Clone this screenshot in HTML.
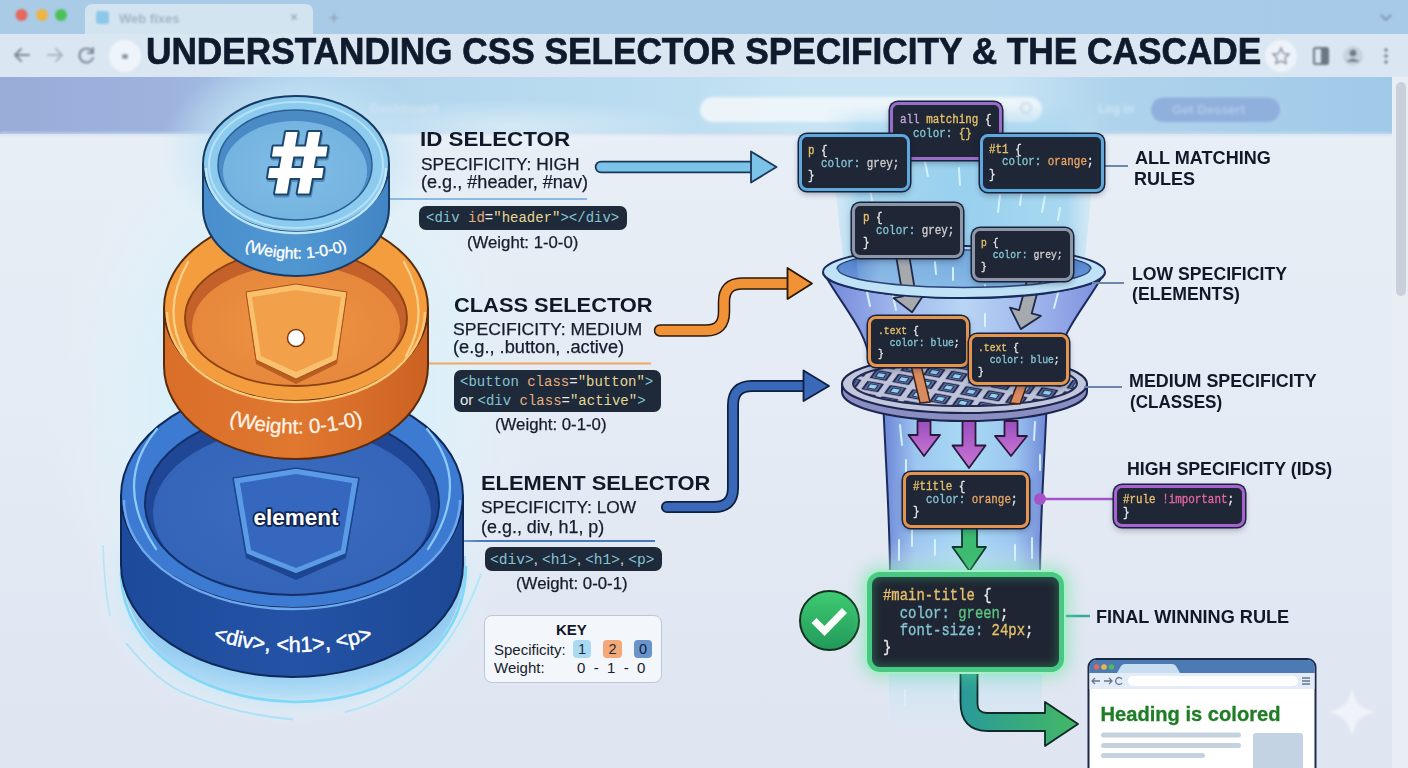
<!DOCTYPE html>
<html><head><meta charset="utf-8">
<style>
*{margin:0;padding:0;box-sizing:border-box}
html,body{width:1408px;height:768px;overflow:hidden;background:#e6edf5}
body{font-family:"Liberation Sans",sans-serif;color:#141b2b}
#root{position:relative;width:1408px;height:768px;overflow:hidden}
svg.layer{position:absolute;left:0;top:0}
.t{position:absolute;white-space:nowrap;line-height:1}
.h{font-weight:bold;color:#111827}
.code{position:absolute;background:#1e293a;border-radius:7px;font-family:"Liberation Mono",monospace;white-space:pre;color:#e6e6e6}
.c{color:#84c4d2}.y{color:#e6c06a}.o{color:#e8a565}.s{color:#e4d994}.a{color:#e6ae7c}.w{color:#e8e8e8}.g{color:#cfcfcf}.p{color:#c4a2dc}.k{color:#e266a2}
.cb{position:absolute;background:#1f2636;border:3px solid #888;border-radius:8px;box-shadow:0 0 0 1.5px #17233d,0 3px 6px rgba(20,30,60,0.35)}
.fin{background:#1f2532;box-shadow:0 0 0 2px #a6f0c8,0 0 16px 6px rgba(90,225,150,0.45),inset 0 0 10px 2px rgba(60,190,120,0.35)}
.ct{position:absolute;font-family:"Liberation Mono",monospace;white-space:pre;font-size:12.5px;line-height:12.5px;transform:scaleX(0.87);transform-origin:0 0;color:#e8e8e8;-webkit-text-stroke:0.35px currentColor}
.ct.sm{font-size:11.5px;line-height:11.8px;transform:scaleX(0.845)}
.ct.big{font-size:16px;line-height:17.5px;transform:scaleX(0.87)}
.gr{color:#5cc47e}
.rl{font-weight:bold;font-size:19px;color:#111827}
</style></head><body><div id="root">
<svg class="layer" width="1408" height="768" viewBox="0 0 1408 768">
<defs>
 <linearGradient id="hdr" x1="0" x2="1392" y1="0" y2="0" gradientUnits="userSpaceOnUse">
  <stop offset="0" stop-color="#98acd8"/><stop offset="0.122" stop-color="#9db3de"/><stop offset="0.216" stop-color="#acccea"/>
  <stop offset="0.30" stop-color="#b4d7ee"/><stop offset="0.50" stop-color="#bddef1"/><stop offset="0.58" stop-color="#c8e4f4"/><stop offset="0.72" stop-color="#c8e4f4"/><stop offset="0.80" stop-color="#aed3ec"/><stop offset="1" stop-color="#a0c9e8"/>
 </linearGradient>
 <filter id="bl1" x="-10%" y="-50%" width="120%" height="200%"><feGaussianBlur stdDeviation="0.9"/></filter>
 <filter id="bl2" x="-10%" y="-50%" width="120%" height="200%"><feGaussianBlur stdDeviation="1.6"/></filter>
 <linearGradient id="tabbar" x1="0" x2="1" y1="0" y2="0">
  <stop offset="0" stop-color="#a9cbe6"/><stop offset="1" stop-color="#a6cae8"/>
 </linearGradient>
 <radialGradient id="glowL" cx="0.5" cy="0.5" r="0.5">
  <stop offset="0.45" stop-color="#d8f0fa" stop-opacity="1"/><stop offset="0.75" stop-color="#e0f1f9" stop-opacity="0.6"/><stop offset="1" stop-color="#e6edf5" stop-opacity="0"/>
 </radialGradient>
</defs>
<!-- main bg -->
<linearGradient id="mainbg" x1="0" y1="135" x2="0" y2="768" gradientUnits="userSpaceOnUse"><stop offset="0" stop-color="#e8eef6"/><stop offset="0.45" stop-color="#e5ebf4"/><stop offset="1" stop-color="#dfe5f1"/></linearGradient>
<rect x="0" y="0" width="1408" height="768" fill="url(#mainbg)"/>
<ellipse cx="292" cy="400" rx="250" ry="330" fill="url(#glowL)"/>
<!-- tab bar -->
<rect x="0" y="0" width="1408" height="34" fill="url(#tabbar)"/>
<path d="M85 34 L85 12 Q85 4 93 4 L305 4 Q313 4 313 12 L313 34 Z" fill="#d3e4f1"/>
<g filter="url(#bl1)">
<circle cx="21.5" cy="15" r="6" fill="#e5675f"/>
<circle cx="42" cy="15" r="6" fill="#eeb444"/>
<circle cx="61" cy="15" r="6" fill="#4cc158"/>
<rect x="96" y="11" width="13" height="13" rx="3" fill="#8ec8e8"/>
<text x="119" y="22.5" font-size="13" font-weight="bold" fill="#a3b2c4" font-family="Liberation Sans">Web fixes</text>
<text x="290" y="22" font-size="14" fill="#8a9bb0" font-family="Liberation Sans">×</text>
<text x="329" y="23" font-size="17" fill="#8a9bb0" font-family="Liberation Sans">+</text>
<path d="M1381 15 L1386 20 L1391 15" fill="none" stroke="#7d94ad" stroke-width="1.8"/>
</g>
<!-- address row -->
<rect x="0" y="34" width="1408" height="43" fill="#dae7f2"/>
<g filter="url(#bl1)">
<circle cx="125" cy="56" r="16" fill="#eef4fa"/>
<circle cx="1281" cy="56" r="16" fill="#edf3f9"/>
<g stroke="#7b8798" stroke-width="2" fill="none" stroke-linecap="round">
 <path d="M15 55 L29 55 M21 49 L15 55 L21 61"/>
 <path d="M48 55 L62 55 M56 49 L62 55 L56 61" stroke="#aab6c4"/>
 <path d="M93 53 A7 7 0 1 0 93 58 M93 48 L93 53 L88 53"/>
</g>
<rect x="122" y="54" width="6" height="5" rx="1" fill="#8d97a4"/>
<path d="M1281 48 L1283.5 53.5 L1289 54 L1285 58 L1286 63.5 L1281 61 L1276 63.5 L1277 58 L1273 54 L1278.5 53.5 Z" fill="none" stroke="#7d8796" stroke-width="1.5"/>
<rect x="1314" y="48" width="14" height="16" rx="1.5" fill="none" stroke="#6d7786" stroke-width="2"/>
<rect x="1321" y="48" width="7" height="16" fill="#6d7786"/>
<circle cx="1353" cy="56" r="10" fill="#c8d3e0"/>
<circle cx="1353" cy="53" r="3.5" fill="#6f7a88"/>
<path d="M1346 62 Q1353 55 1360 62 Z" fill="#6f7a88"/>
<circle cx="1386" cy="50" r="1.7" fill="#6f7a88"/><circle cx="1386" cy="56" r="1.7" fill="#6f7a88"/><circle cx="1386" cy="62" r="1.7" fill="#6f7a88"/>
</g>
<!-- header band -->
<rect x="0" y="77" width="1392" height="57" fill="url(#hdr)"/>
<rect x="0" y="132" width="1392" height="4" fill="#cfdff0" opacity="0.6" filter="url(#bl1)"/>
<radialGradient id="hglow" cx="0.5" cy="0.5" r="0.5"><stop offset="0" stop-color="#eef6fb" stop-opacity="0.55"/><stop offset="1" stop-color="#eef6fb" stop-opacity="0"/></radialGradient>
<ellipse cx="510" cy="126" rx="190" ry="26" fill="url(#hglow)"/>
<radialGradient id="cylglow" cx="0.5" cy="0.5" r="0.5"><stop offset="0.5" stop-color="#c2e4f5" stop-opacity="0.9"/><stop offset="1" stop-color="#c2e4f5" stop-opacity="0"/></radialGradient>
<ellipse cx="296" cy="150" rx="135" ry="95" fill="url(#cylglow)"/>
<rect x="1151" y="97.5" width="129" height="24.5" rx="12.2" fill="#8fb0dc" filter="url(#bl1)"/>
<g filter="url(#bl2)">
<rect x="700" y="97" width="342" height="25" rx="12.5" fill="#eef5fa" opacity="0.95"/>
<circle cx="1026" cy="108" r="5" fill="none" stroke="#c4d6e4" stroke-width="2"/>
<text x="370" y="113" font-family="Liberation Sans" font-weight="bold" font-size="13" fill="#cfe2f2">Dashboard</text>
<text x="1098" y="113" font-family="Liberation Sans" font-weight="bold" font-size="12" fill="#cfe6f6">Log in</text>
<text x="1172" y="114" font-family="Liberation Sans" font-weight="bold" font-size="13" fill="#b0c8e8">Get Dessert</text>
</g>

<!-- section lines -->
<rect x="385" y="198" width="202" height="2" fill="#8bb9e1"/>
<rect x="425" y="362.5" width="226" height="2" fill="#efa862"/>
<rect x="463" y="540" width="192" height="2" fill="#4a78bf"/>

<!-- ===== LEFT ARROWS ===== -->
<g stroke-linecap="round" stroke-linejoin="round" fill="none">
 <path d="M601 167 L752 167" stroke="#1a3658" stroke-width="12.5"/>
 <path d="M601 167 L753 167" stroke="#7cc3e9" stroke-width="9"/>
 <path d="M660 330.5 L706 330.5 Q724 330.5 724 312 L724 302 Q724 283.5 742 283.5 L789 283.5" stroke="#2a1808" stroke-width="12.5"/>
 <path d="M660 330.5 L706 330.5 Q724 330.5 724 312 L724 302 Q724 283.5 742 283.5 L790 283.5" stroke="#f29236" stroke-width="9.5"/>
 <path d="M667 507 L714 507 Q733 507 733 488 L733 405 Q733 386 752 386 L805 386" stroke="#0e1f40" stroke-width="12"/>
 <path d="M667 507 L714 507 Q733 507 733 488 L733 405 Q733 386 752 386 L806 386" stroke="#3b69b9" stroke-width="8.5"/>
</g>
<g stroke-linejoin="round" stroke-width="1.8">
 <path d="M751 151.5 L776.5 167 L751 182.5 Z" fill="#7cc3e9" stroke="#1a3658"/>
 <path d="M787.5 268 L812 283.5 L787.5 299 Z" fill="#f29236" stroke="#2a1808"/>
 <path d="M803.5 370.5 L829 386 L803.5 401 Z" fill="#3b69b9" stroke="#0e1f40"/>
</g>
<!-- ===== LEFT CYLINDERS ===== -->
<defs>
 <linearGradient id="dbSide" x1="0" x2="1"><stop offset="0" stop-color="#1d4a9a"/><stop offset="0.5" stop-color="#2453a6"/><stop offset="1" stop-color="#1c4894"/></linearGradient>
 <linearGradient id="orSide" x1="0" x2="1"><stop offset="0" stop-color="#d96e28"/><stop offset="0.5" stop-color="#e07830"/><stop offset="1" stop-color="#cc6222"/></linearGradient>
 <linearGradient id="blSide" x1="0" x2="1"><stop offset="0" stop-color="#4a8fcd"/><stop offset="0.5" stop-color="#5097d2"/><stop offset="1" stop-color="#4385c4"/></linearGradient>
 <radialGradient id="dbFace" cx="0.5" cy="0.45" r="0.6"><stop offset="0" stop-color="#3a6cc0"/><stop offset="1" stop-color="#3363b7"/></radialGradient>
 <radialGradient id="orFace" cx="0.5" cy="0.5" r="0.6"><stop offset="0" stop-color="#ee9444"/><stop offset="1" stop-color="#e5853a"/></radialGradient>
 <radialGradient id="blFace" cx="0.5" cy="0.5" r="0.6"><stop offset="0" stop-color="#80bde6"/><stop offset="1" stop-color="#73b2df"/></radialGradient>
</defs>
<!-- glow rings -->
<defs><radialGradient id="baseglow" cx="0.5" cy="0.5" r="0.5"><stop offset="0.55" stop-color="#a6dcf6" stop-opacity="0.95"/><stop offset="0.8" stop-color="#c2e8f8" stop-opacity="0.7"/><stop offset="1" stop-color="#e0f0f8" stop-opacity="0"/></radialGradient></defs>
<ellipse cx="292" cy="585" rx="200" ry="140" fill="url(#baseglow)"/>
<radialGradient id="innerglow" cx="0.5" cy="0.3" r="0.75"><stop offset="0.55" stop-color="#84c4ee" stop-opacity="0.95"/><stop offset="0.85" stop-color="#a6d6f4" stop-opacity="0.7"/><stop offset="1" stop-color="#c4e6f8" stop-opacity="0.3"/></radialGradient>
<path d="M121 560 C 122 650, 200 700, 294 702 C 390 702, 466 650, 466 556 Z" fill="url(#innerglow)"/>
<path d="M121 572 C 122 650, 200 700, 294 702 C 390 702, 466 650, 466 566" fill="none" stroke="#7fd8f8" stroke-width="2.6"/>
<path d="M103 545 Q104 585 110 616" fill="none" stroke="#a8e4f8" stroke-width="1.6" opacity="0.8"/>
<path d="M126 643 Q160 685 189 695 Q240 715 293 719.5" fill="none" stroke="#9fe0f8" stroke-width="1.8" opacity="0.85"/>
<path d="M345 712 Q440 690 481 574" fill="none" stroke="#a6e4fa" stroke-width="1.8" opacity="0.85"/>
<!-- dark blue cylinder -->
<path d="M121 496 L121 565 A171 112 0 0 0 463 565 L463 496 Z" fill="url(#dbSide)" stroke="#0f2858" stroke-width="2"/>
<ellipse cx="292" cy="496" rx="171" ry="112" fill="#3d7bd3" stroke="#0f2858" stroke-width="2"/>
<path d="M124 500 A168 109 0 0 0 460 500" fill="none" stroke="#6ea8ee" stroke-width="2.5"/>
<path d="M157 429 Q111.5 483 156 549" fill="none" stroke="#8ccaf8" stroke-width="2.2" stroke-linecap="round"/>
<path d="M427 429 Q472.5 483 428 549" fill="none" stroke="#8ccaf8" stroke-width="2.2" stroke-linecap="round"/>
<clipPath id="dbclip"><ellipse cx="292" cy="503" rx="147" ry="92"/></clipPath>
<ellipse cx="292" cy="503" rx="147" ry="92" fill="#1f4796"/>
<ellipse cx="292" cy="513" rx="139" ry="85" fill="url(#dbFace)" clip-path="url(#dbclip)"/>
<ellipse cx="292" cy="503" rx="147" ry="92" fill="none" stroke="#12306a" stroke-width="2"/>
<!-- element shield -->
<path d="M246 558 L233 480 L296 470 L359 480 L346 558 L296 580 Z" fill="#1d4690" />
<path d="M246 554 L233 478 L296 468 L359 478 L346 554 L296 574 Z" fill="#5b9be6" stroke="#1d4690" stroke-width="1.5"/>
<path d="M251 550 L240 483 L296 474 L352 483 L341 550 L296 568 Z" fill="#3467bd"/>
<!-- orange cylinder -->
<path d="M164 308 L164 366 A132 93 0 0 0 428 366 L428 308 Z" fill="url(#orSide)" stroke="#5a2a0c" stroke-width="2"/>
<ellipse cx="296" cy="308" rx="132" ry="93" fill="#f39d3e" stroke="#5a2a0c" stroke-width="2"/>
<path d="M167 312 A129 90 0 0 0 425 312" fill="none" stroke="#fbc878" stroke-width="2.5"/>
<path d="M188 262 Q160 312 186 356" fill="none" stroke="#fbd08a" stroke-width="2.2" stroke-linecap="round"/>
<path d="M404 262 Q432 312 406 356" fill="none" stroke="#fbd08a" stroke-width="2.2" stroke-linecap="round"/>
<clipPath id="orclip"><ellipse cx="296" cy="318" rx="111" ry="68"/></clipPath>
<ellipse cx="296" cy="318" rx="111" ry="68" fill="#c4602a"/>
<ellipse cx="296" cy="327" rx="104" ry="62" fill="url(#orFace)" clip-path="url(#orclip)"/>
<ellipse cx="296" cy="318" rx="111" ry="68" fill="none" stroke="#8a4012" stroke-width="1.8"/>
<!-- class shield -->
<path d="M256 364 L246 294 L296 286 L347 294 L337 364 L296 384 Z" fill="#b85e20"/>
<path d="M256 360 L246 292 L296 284 L347 292 L337 360 L296 379 Z" fill="#f9c16e" stroke="#a8501a" stroke-width="1"/>
<path d="M261 356 L252 297 L296 290 L341 297 L332 356 L296 372 Z" fill="#f2a04a"/>
<circle cx="296" cy="338" r="8.5" fill="#ffffff" stroke="#7a3a10" stroke-width="1.5"/>
<!-- blue top cylinder -->
<path d="M203 164 L203 208 A93 68 0 0 0 389 208 L389 164 Z" fill="url(#blSide)" stroke="#173a62" stroke-width="2"/>
<ellipse cx="296" cy="164" rx="93" ry="68" fill="#8ccbee" stroke="#173a62" stroke-width="2"/>
<path d="M206 168 A90 65 0 0 0 386 168" fill="none" stroke="#bde6fa" stroke-width="2.5"/>
<ellipse cx="296" cy="165" rx="87" ry="63" fill="none" stroke="#b4e0f8" stroke-width="2"/>
<clipPath id="blclip"><ellipse cx="295" cy="165" rx="77" ry="55"/></clipPath>
<ellipse cx="295" cy="165" rx="77" ry="55" fill="#4a8bc6"/>
<ellipse cx="295" cy="171" rx="72" ry="50" fill="url(#blFace)" clip-path="url(#blclip)"/>
<ellipse cx="295" cy="165" rx="77" ry="55" fill="none" stroke="#2a5f93" stroke-width="1.5"/>
<!-- hash -->
<g id="hash">
 <g stroke="#3d6f9c" stroke-width="4" stroke-linejoin="round" fill="#3d6f9c" transform="translate(0.8,2)" opacity="0.6">
  <polygon points="286,132 297.6,132 287,193.6 275,193.6"/>
  <polygon points="308.5,132 320.3,132 309.2,193.6 297.6,193.6"/>
  <polygon points="273.5,146.6 327.5,146.6 326,156.5 272,156.5"/>
  <polygon points="269.5,168 323.5,168 322,178 268,178"/>
 </g>
 <g stroke="#1b4670" stroke-width="4" stroke-linejoin="round" fill="#1b4670">
  <polygon points="286,132 297.6,132 287,193.6 275,193.6"/>
  <polygon points="308.5,132 320.3,132 309.2,193.6 297.6,193.6"/>
  <polygon points="273.5,146.6 327.5,146.6 326,156.5 272,156.5"/>
  <polygon points="269.5,168 323.5,168 322,178 268,178"/>
 </g>
 <g fill="#ffffff">
  <polygon points="286,132 297.6,132 287,193.6 275,193.6"/>
  <polygon points="308.5,132 320.3,132 309.2,193.6 297.6,193.6"/>
  <polygon points="273.5,146.6 327.5,146.6 326,156.5 272,156.5"/>
  <polygon points="269.5,168 323.5,168 322,178 268,178"/>
 </g>
</g>
<!-- cylinder texts -->
<path id="arc1" d="M236 247 Q296 270 356 247" fill="none"/>
<text font-family="Liberation Sans" font-size="15.8" fill="#ffffff" text-anchor="middle" stroke="#ffffff" stroke-width="0.35"><textPath href="#arc1" startOffset="50%">(Weight: 1-0-0)</textPath></text>
<path id="arc2" d="M212 419 Q296 448 380 419" fill="none"/>
<text font-family="Liberation Sans" font-size="20.5" fill="#fff3e6" text-anchor="middle" stroke="#fff3e6" stroke-width="0.3"><textPath href="#arc2" startOffset="50%">(Weight: 0-1-0)</textPath></text>
<path id="arc3" d="M198 635 Q293 669 388 635" fill="none"/>
<text font-family="Liberation Sans" font-size="21.5" fill="#ffffff" text-anchor="middle" stroke="#ffffff" stroke-width="0.5"><textPath href="#arc3" startOffset="50%">&lt;div&gt;, &lt;h1&gt;, &lt;p&gt;</textPath></text>
<text x="296" y="525" font-family="Liberation Sans" font-weight="bold" font-size="22.5" fill="#ffffff" text-anchor="middle" stroke="#10254f" stroke-width="3.5" paint-order="stroke" stroke-linejoin="round">element</text>


<!-- ===== FUNNEL ===== -->
<defs>
 <linearGradient id="beam" x1="0" x2="1"><stop offset="0" stop-color="#c4e5f6" stop-opacity="0.2"/><stop offset="0.12" stop-color="#a8d8f0"/><stop offset="0.5" stop-color="#98d0ee"/><stop offset="0.88" stop-color="#a8d8f0"/><stop offset="1" stop-color="#c4e5f6" stop-opacity="0.2"/></linearGradient>
 <linearGradient id="cone" x1="0" x2="1"><stop offset="0" stop-color="#7486da"/><stop offset="0.25" stop-color="#9fb6ec"/><stop offset="0.5" stop-color="#b8d6f4"/><stop offset="0.75" stop-color="#9fb6ec"/><stop offset="1" stop-color="#7e8ede"/></linearGradient>
 <linearGradient id="tube" x1="0" x2="1"><stop offset="0" stop-color="#6b84d6"/><stop offset="0.2" stop-color="#9cc6f0"/><stop offset="0.5" stop-color="#a8daf4"/><stop offset="0.8" stop-color="#9cc6f0"/><stop offset="1" stop-color="#7088d8"/></linearGradient>
 <linearGradient id="tubefade" x1="0" y1="0" x2="0" y2="1"><stop offset="0" stop-color="#e6edf5" stop-opacity="0"/><stop offset="1" stop-color="#e6edf5" stop-opacity="0.55"/></linearGradient>
 <linearGradient id="opening" x1="0" y1="0" x2="0" y2="1"><stop offset="0" stop-color="#4c7bc9"/><stop offset="1" stop-color="#6e9ddc"/></linearGradient>
 <linearGradient id="purp" x1="0" y1="0" x2="0" y2="1"><stop offset="0" stop-color="#9a4fbe"/><stop offset="1" stop-color="#c874d4"/></linearGradient>
 <linearGradient id="lgreen" x1="0" y1="0" x2="1" y2="0"><stop offset="0" stop-color="#2a9a9a"/><stop offset="1" stop-color="#44b864"/></linearGradient>
 <pattern id="grid" patternUnits="userSpaceOnUse" width="24" height="24" patternTransform="translate(964,384) scale(1,0.5) rotate(20)">
  <rect width="24" height="24" fill="#c0c4d9"/>
  <rect x="3" y="3" width="18" height="18" rx="1.5" fill="#232c56"/>
  <rect x="5.5" y="5.5" width="13" height="13" fill="#6f7ca8"/>
  <rect x="7" y="7" width="10" height="10" fill="#232c56"/>
  <rect x="8.5" y="8.5" width="7" height="7" fill="#8fd3ef"/>
 </pattern>
 <clipPath id="sieveclip"><ellipse cx="964" cy="381" rx="112" ry="20"/></clipPath>
</defs>
<!-- beam -->
<linearGradient id="beamv" x1="0" y1="0" x2="0" y2="1"><stop offset="0" stop-color="#fff" stop-opacity="0"/><stop offset="0.22" stop-color="#fff" stop-opacity="1"/><stop offset="1" stop-color="#fff" stop-opacity="1"/></linearGradient>
<mask id="beammask" maskUnits="userSpaceOnUse" x="800" y="100" width="320" height="180"><rect x="800" y="105" width="320" height="170" fill="url(#beamv)"/></mask>
<path d="M826 105 L1100 105 L1084 268 L844 268 Z" fill="url(#beam)" mask="url(#beammask)"/>
<!-- lower faint tube below final box -->
<linearGradient id="ltube" x1="0" y1="0" x2="0" y2="1"><stop offset="0" stop-color="#bfe0f3" stop-opacity="0.85"/><stop offset="1" stop-color="#d6e8f4" stop-opacity="0"/></linearGradient>
<rect x="889" y="660" width="153" height="80" fill="url(#ltube)"/>
<!-- tube -->
<path d="M883 398 C 886 470, 890 520, 890 578 L1040 578 C1040 520, 1044 470, 1047 398 Z" fill="url(#tube)" stroke="#1b2c5c" stroke-width="2"/>
<rect x="884" y="540" width="162" height="40" fill="url(#tubefade)"/>
<!-- cone -->
<path d="M825 275 C 845 310, 866 330, 870 362 L1058 362 C 1062 330, 1083 310, 1103 275 Z" fill="url(#cone)" stroke="#1b2c5c" stroke-width="2"/>
<!-- rim -->
<ellipse cx="964" cy="272" rx="141" ry="26" fill="#bfe2f6" stroke="#1b2c5c" stroke-width="2"/>
<ellipse cx="964" cy="269" rx="127" ry="19" fill="url(#opening)" stroke="#2a4478" stroke-width="1.5"/>
<clipPath id="openclip"><ellipse cx="964" cy="269" rx="126" ry="18.5"/></clipPath>
<path d="M855 240 L1074 240 L1070 300 L860 300 Z" fill="url(#beam)" opacity="0.55" clip-path="url(#openclip)"/>
<!-- sieve -->
<path d="M842 384 L842 392 A122.5 29 0 0 0 1087 392 L1087 384 Z" fill="#8a8ec0" stroke="#1b2550" stroke-width="2"/>
<ellipse cx="964.5" cy="384" rx="122.5" ry="29" fill="#c3c7dc" stroke="#1b2550" stroke-width="2"/>
<ellipse cx="965" cy="383.5" rx="112" ry="22.5" fill="url(#grid)" stroke="#232c56" stroke-width="2"/>
<!-- streaks -->
<g stroke="#dcf6ff" stroke-width="2" stroke-linecap="round" opacity="0.9">
 <line x1="925" y1="162" x2="928" y2="176"/><line x1="959" y1="168" x2="960" y2="185"/>
 <line x1="1000" y1="195" x2="998" y2="212"/><line x1="1022" y1="190" x2="1020" y2="205"/>
 <line x1="1045" y1="196" x2="1042" y2="212"/><line x1="1060" y1="208" x2="1058" y2="220"/>
 <line x1="870" y1="190" x2="872" y2="200"/><line x1="935" y1="262" x2="936" y2="274"/>
 <line x1="953" y1="268" x2="953" y2="280"/><line x1="985" y1="285" x2="985" y2="297"/>
 <line x1="867" y1="292" x2="870" y2="306"/><line x1="893" y1="296" x2="896" y2="310"/>
 <line x1="1058" y1="293" x2="1054" y2="308"/><line x1="985" y1="314" x2="985" y2="326"/>
 <line x1="900" y1="425" x2="902" y2="445"/><line x1="1035" y1="422" x2="1034" y2="440"/>
 <line x1="1040" y1="455" x2="1040" y2="470"/><line x1="906" y1="460" x2="906" y2="472"/>
 <line x1="899" y1="540" x2="899" y2="560"/><line x1="912" y1="530" x2="912" y2="546"/>
 <line x1="1032" y1="538" x2="1032" y2="558"/><line x1="1015" y1="545" x2="1015" y2="560"/>
 <line x1="935" y1="540" x2="935" y2="555"/><line x1="905" y1="690" x2="905" y2="705" opacity="0.6"/>
 <line x1="955" y1="690" x2="955" y2="700" opacity="0.6"/>
</g>
<!-- gray arrows -->
<g fill="#a6a9ae" stroke="#1f2a48" stroke-width="1.8" stroke-linejoin="round">
 <path transform="translate(902,252) rotate(-9.5)" d="M-6.5 0 L6.5 0 L6.5 44 L16 44 L0 61 L-16 44 L-6.5 44 Z"/>
 <path transform="translate(1035,276) rotate(15)" d="M-6.5 0 L6.5 0 L6.5 37 L16 37 L0 55 L-16 37 L-6.5 37 Z"/>
</g>
<!-- front rim band over arrows -->
<path d="M823 272 A141 26 0 0 0 1105 272 L1090 269 A126 18.5 0 0 1 838 269 Z" fill="#bfe2f6"/>
<path d="M823 272 A141 26 0 0 0 1105 272" fill="none" stroke="#1b2c5c" stroke-width="2"/>
<path d="M1090 269 A126 18.5 0 0 1 838 269" fill="none" stroke="#2a4478" stroke-width="1.5"/>
<!-- orange sticks -->
<g fill="#d98a5e" stroke="#3a2418" stroke-width="1.5">
 <path d="M911 365 L921 365 L930 402 L920 403 Z"/>
 <path d="M1018 382 L1028 382 L1020 404 L1010 403 Z"/>
</g>
<!-- purple arrows -->
<g fill="url(#purp)" stroke="#2a1a3a" stroke-width="1.8" stroke-linejoin="round">
 <path d="M917.5 421 L930.5 421 L930.5 435 L940 435 L924 456 L908.5 435 L917.5 435 Z"/>
 <path d="M962.5 421 L975.5 421 L975.5 445.5 L985.5 445.5 L969 468 L952.5 445.5 L962.5 445.5 Z"/>
 <path d="M1004.5 421 L1017.5 421 L1017.5 436 L1027 436 L1011 456 L995 436 L1004.5 436 Z"/>
</g>
<!-- green arrow -->
<path d="M962 526 L977 526 L977 547 L986 547 L969.5 571 L952.5 547 L962 547 Z" fill="#3dba72" stroke="#113a28" stroke-width="1.8" stroke-linejoin="round"/>
<!-- L green arrow -->
<path d="M960.5 668 L977.5 668 L977.5 704 Q977.5 713 987 713 L1045 713 L1045 702 L1078 724 L1045 746 L1045 731 L988 731 Q960.5 731 960.5 702 Z" fill="url(#lgreen)" stroke="#0f2a28" stroke-width="1.8" stroke-linejoin="round"/>
<!-- connectors -->
<g stroke="#6c88a8" stroke-width="2">
 <line x1="1104" y1="166" x2="1128" y2="166"/>
 <line x1="1092" y1="283" x2="1124" y2="283"/>
 <line x1="1084" y1="387" x2="1122" y2="387"/>
</g>
<line x1="1040" y1="499" x2="1114" y2="499" stroke="#a653c9" stroke-width="2.5"/>
<circle cx="1040" cy="499" r="6" fill="#a653c9"/>
<line x1="1062" y1="616" x2="1090" y2="616" stroke="#3aa89a" stroke-width="2.5"/>
<!-- check -->
<defs><linearGradient id="chk" x1="0" y1="0" x2="0" y2="1"><stop offset="0" stop-color="#3fcb72"/><stop offset="1" stop-color="#21995a"/></linearGradient></defs>
<circle cx="829.5" cy="620.5" r="29.5" fill="url(#chk)" stroke="#12301e" stroke-width="2"/>
<path d="M814 620.5 L824.5 631 L844.5 610.5" fill="none" stroke="#fbfffc" stroke-width="7" stroke-linecap="butt" stroke-linejoin="miter"/>
<!-- browser mockup -->
<rect x="1088.5" y="659" width="227" height="120" rx="8" fill="#ffffff" stroke="#1c2a48" stroke-width="2"/>
<path d="M1089.5 673 L1089.5 667 Q1089.5 660 1096.5 660 L1307.5 660 Q1314.5 660 1314.5 667 L1314.5 673 Z" fill="#4c7ab3"/>
<path d="M1117 673 L1121 666 Q1122.5 664 1125 664 L1172 664 Q1174.5 664 1176 666 L1180 673 Z" fill="#c6def0"/>
<circle cx="1096.5" cy="667" r="2.8" fill="#e06a5a"/><circle cx="1104" cy="667" r="2.8" fill="#e8b84a"/><circle cx="1111.5" cy="667" r="2.8" fill="#52b85a"/>
<rect x="1089.5" y="673" width="225" height="16" fill="#e4edf7"/>
<rect x="1128" y="676" width="170" height="10" rx="5" fill="#ffffff"/>
<g stroke="#66768c" stroke-width="1.3" fill="none">
 <path d="M1092 681 L1100 681 M1095 678 L1092 681 L1095 684"/>
 <path d="M1104 681 L1112 681 M1109 678 L1112 681 L1109 684"/>
 <path d="M1122 679 A3.5 3.5 0 1 0 1122 683"/>
 <path d="M1302 678 L1310 678 M1302 681 L1310 681 M1302 684 L1310 684"/>
</g>
<rect x="1101" y="732.5" width="140" height="5" rx="2.5" fill="#c3d1e1"/>
<rect x="1101" y="743" width="140" height="5" rx="2.5" fill="#c3d1e1"/>
<rect x="1101" y="753" width="104" height="5" rx="2.5" fill="#c3d1e1"/>
<rect x="1253" y="733" width="50" height="40" rx="3" fill="#c3d3e4"/>
<text x="1100.5" y="721" font-family="Liberation Sans" font-weight="bold" font-size="21" fill="#1f7d25" stroke="#1f7d25" stroke-width="0.3" textLength="180" lengthAdjust="spacingAndGlyphs">Heading is colored</text>
<!-- sparkle -->
<path d="M1352 688 C1355 704, 1361 709, 1377 712 C1361 715, 1355 720, 1352 737 C1349 720, 1343 715, 1327 712 C1343 709, 1349 704, 1352 688 Z" fill="#f2f5fa" opacity="0.85" filter="url(#bl1)"/>
<!-- scrollbar -->
<rect x="1392" y="77" width="16" height="691" fill="#e9eef4"/>
<rect x="1396" y="82" width="10" height="214" rx="5" fill="#c9d0d9"/>
</svg>

<div class="t h" id="title" style="left:146px;top:33px;font-size:37.5px;color:#0f1a2d;transform:scaleX(0.939);transform-origin:0 0;-webkit-text-stroke:0.7px #0f1a2d">UNDERSTANDING CSS SELECTOR SPECIFICITY &amp; THE CASCADE</div>


<!-- ===== LEFT TEXT COLUMN ===== -->
<div class="t h" id="h1" style="left:420.4px;top:127.5px;transform:scaleX(1.066);transform-origin:0 0;font-size:21px">ID SELECTOR</div>
<div class="t" id="s1" style="left:421.0px;top:156.0px;transform:scaleX(1.047);transform-origin:0 0;font-size:16.5px;color:#161d2c;-webkit-text-stroke:0.25px #161d2c">SPECIFICITY: HIGH</div>
<div class="t" id="e1" style="left:421.0px;top:174.0px;transform:scaleX(1.034);transform-origin:0 0;font-size:17.5px;color:#161d2c;-webkit-text-stroke:0.25px #161d2c">(e.g., #header, #nav)</div>
<div class="t" id="w1" style="left:467.0px;top:235.0px;transform:scaleX(1.046);transform-origin:0 0;font-size:16px;color:#161d2c;-webkit-text-stroke:0.25px #161d2c">(Weight: 1-0-0)</div>

<div class="t h" id="h2" style="left:453.5px;top:294.0px;transform:scaleX(1.040);transform-origin:0 0;font-size:21px">CLASS SELECTOR</div>
<div class="t" id="s2" style="left:453.0px;top:321.0px;transform:scaleX(1.069);transform-origin:0 0;font-size:16.5px;color:#161d2c;-webkit-text-stroke:0.25px #161d2c">SPECIFICITY: MEDIUM</div>
<div class="t" id="e2" style="left:453.0px;top:339.0px;transform:scaleX(1.041);transform-origin:0 0;font-size:17.5px;color:#161d2c;-webkit-text-stroke:0.25px #161d2c">(e.g., .button, .active)</div>
<div class="t" id="w2" style="left:494.5px;top:417.0px;transform:scaleX(1.048);transform-origin:0 0;font-size:16px;color:#161d2c;-webkit-text-stroke:0.25px #161d2c">(Weight: 0-1-0)</div>

<div class="t h" id="h3" style="left:480.5px;top:472.3px;transform:scaleX(1.042);transform-origin:0 0;font-size:21px">ELEMENT SELECTOR</div>
<div class="t" id="s3" style="left:481.0px;top:499.0px;transform:scaleX(1.051);transform-origin:0 0;font-size:16.5px;color:#161d2c;-webkit-text-stroke:0.25px #161d2c">SPECIFICITY: LOW</div>
<div class="t" id="e3" style="left:481.0px;top:518.5px;transform:scaleX(1.025);transform-origin:0 0;font-size:17.5px;color:#161d2c;-webkit-text-stroke:0.25px #161d2c">(e.g., div, h1, p)</div>
<div class="t" id="w3" style="left:515.7px;top:576.0px;transform:scaleX(1.049);transform-origin:0 0;font-size:16px;color:#161d2c;-webkit-text-stroke:0.25px #161d2c">(Weight: 0-0-1)</div>

<div class="code" id="cb1" style="left:419px;top:206px;width:208px;height:24px;font-size:14px;line-height:25px;padding-left:7px"><span class="c">&lt;div</span> <span class="a">id</span><span class="w">=</span><span class="s">"header"</span><span class="c">&gt;&lt;/div&gt;</span></div>
<div class="code" id="cb2" style="left:454px;top:370px;width:207px;height:42px;font-size:14px;line-height:18px;padding:3px 0 0 6px"><span class="c">&lt;button</span> <span class="a">class</span><span class="w">=</span><span class="s">"button"</span><span class="c">&gt;</span>
<span class="w" style="font-family:'Liberation Sans';font-size:15px">or </span><span class="c">&lt;div</span> <span class="a">class</span><span class="w">=</span><span class="s">"active"</span><span class="c">&gt;</span></div>
<div class="code" id="cb3" style="left:485px;top:547px;width:177px;height:24px;font-size:14.6px;line-height:25px;padding-left:5px"><span class="c">&lt;div&gt;</span><span class="w" style="font-family:'Liberation Sans'">, </span><span class="c">&lt;h1&gt;</span><span class="w" style="font-family:'Liberation Sans'">, </span><span class="c">&lt;h1&gt;</span><span class="w" style="font-family:'Liberation Sans'">, </span><span class="c">&lt;p&gt;</span></div>

<div id="key" style="position:absolute;left:484px;top:615px;width:178px;height:68px;background:#f3f6fa;border:1.5px solid #b9c8da;border-radius:8px"></div>
<div class="t h" id="keyt" style="left:556px;top:622px;font-size:15px">KEY</div>
<div class="t" style="left:494px;top:642px;font-size:15px;color:#161d2c">Specificity:</div>
<div class="t" style="left:494px;top:660px;font-size:15px;color:#161d2c">Weight:</div>
<div class="t" style="left:573px;top:640px;width:18px;height:18px;border-radius:4px;background:#a9daf2;font-size:14.5px;line-height:18px;text-align:center;color:#1e2a3a">1</div>
<div class="t" style="left:603px;top:640px;width:19px;height:18px;border-radius:4px;background:#f3a877;font-size:14.5px;line-height:18px;text-align:center;color:#1e2a3a">2</div>
<div class="t" style="left:634px;top:640px;width:18px;height:18px;border-radius:4px;background:#6993cb;font-size:14.5px;line-height:18px;text-align:center;color:#14203a">0</div>
<div class="t" style="left:577px;top:660px;font-size:15px;color:#161d2c;word-spacing:0">0 &nbsp;- &nbsp;1 &nbsp;- &nbsp;0</div>

<!-- ===== CODE BOXES RIGHT ===== -->
<div class="cb" style="left:890px;top:102px;width:112px;height:58px;border-color:#9c6cca"></div>
<div class="cb" style="left:799px;top:134px;width:111px;height:57px;border-color:#5ea8dc"></div>
<div class="cb" style="left:980px;top:134px;width:124px;height:58px;border-color:#5ea8dc"></div>
<div class="cb" style="left:852px;top:203px;width:111px;height:55px;border-color:#8c96a6"></div>
<div class="cb" style="left:972px;top:228px;width:101px;height:53px;border-color:#8c96a6"></div>
<div class="cb" style="left:868px;top:316px;width:101px;height:51px;border-color:#e4944e"></div>
<div class="cb" style="left:969px;top:334px;width:100px;height:51px;border-color:#e4944e"></div>
<div class="cb" style="left:903px;top:472px;width:126px;height:56px;border-color:#e4944e"></div>
<div class="cb" style="left:1114px;top:485px;width:131px;height:42px;border-color:#a862d2"></div>
<div class="cb fin" style="left:867px;top:572px;width:197px;height:100px;border:5px solid #49c883;border-radius:13px"></div>

<div class="ct" style="left:900px;top:112.7px;line-height:14px"><span class="p">all</span> <span class="y">matching</span> <span class="w">{</span>
  <span class="c">color:</span> <span class="y">{}</span></div>
<div class="ct" style="left:808px;top:145.4px"><span class="y">p</span> <span class="w">{</span>
  <span class="c">color:</span> <span class="g">grey;</span>
<span class="w">}</span></div>
<div class="ct" style="left:989px;top:143.8px"><span class="y">#t1</span> <span class="w">{</span>
  <span class="c">color:</span> <span class="o">orange</span><span class="w">;</span>
<span class="w">}</span></div>
<div class="ct" style="left:862.5px;top:212.4px"><span class="y">p</span> <span class="w">{</span>
  <span class="c">color:</span> <span class="g">grey;</span>
<span class="w">}</span></div>
<div class="ct sm" style="left:980.5px;top:237px"><span class="y">p</span> <span class="w">{</span>
  <span class="c">color:</span> <span class="g">grey;</span>
<span class="w">}</span></div>
<div class="ct sm" style="left:878px;top:324.8px"><span class="y">.text</span> <span class="w">{</span>
  <span class="c">color:</span> <span class="c">blue</span><span class="w">;</span>
<span class="w">}</span></div>
<div class="ct sm" style="left:978px;top:342px"><span class="y">.text</span> <span class="w">{</span>
  <span class="c">color:</span> <span class="c">blue</span><span class="w">;</span>
<span class="w">}</span></div>
<div class="ct" style="left:912.5px;top:481px"><span class="y">#title</span> <span class="w">{</span>
  <span class="c">color:</span> <span class="o">orange</span><span class="w">;</span>
<span class="w">}</span></div>
<div class="ct" style="left:1123px;top:494px"><span class="y">#rule</span> <span class="k">!important</span><span class="w">;</span>
<span class="w">}</span></div>
<div class="ct big" style="left:883px;top:588.3px;line-height:17.2px"><span class="y">#main-title</span> <span class="w">{</span>
  <span class="c">color:</span> <span class="gr">green</span><span class="w">;</span>
  <span class="c">font-size:</span> <span class="y">24px</span><span class="w">;</span>
<span class="w">}</span></div>

<!-- right labels -->
<div class="t rl" id="r1" style="left:1135.0px;top:148.0px;transform:scaleX(0.951);transform-origin:0 0">ALL MATCHING</div>
<div class="t rl" id="r2" style="left:1134.0px;top:169.0px;transform:scaleX(0.946);transform-origin:0 0">RULES</div>
<div class="t rl" id="r3" style="left:1131.5px;top:263.5px;transform:scaleX(0.929);transform-origin:0 0">LOW SPECIFICITY</div>
<div class="t rl" id="r4" style="left:1132.4px;top:284.0px;transform:scaleX(0.929);transform-origin:0 0">(ELEMENTS)</div>
<div class="t rl" id="r5" style="left:1128.6px;top:371.0px;transform:scaleX(0.940);transform-origin:0 0">MEDIUM SPECIFICITY</div>
<div class="t rl" id="r6" style="left:1129.6px;top:391.5px;transform:scaleX(0.900);transform-origin:0 0">(CLASSES)</div>
<div class="t rl" id="r7" style="left:1127.4px;top:459.0px;transform:scaleX(0.936);transform-origin:0 0">HIGH SPECIFICITY (IDS)</div>
<div class="t rl" id="r8" style="left:1095.9px;top:607.0px;transform:scaleX(0.955);transform-origin:0 0">FINAL WINNING RULE</div>

</div></body></html>
